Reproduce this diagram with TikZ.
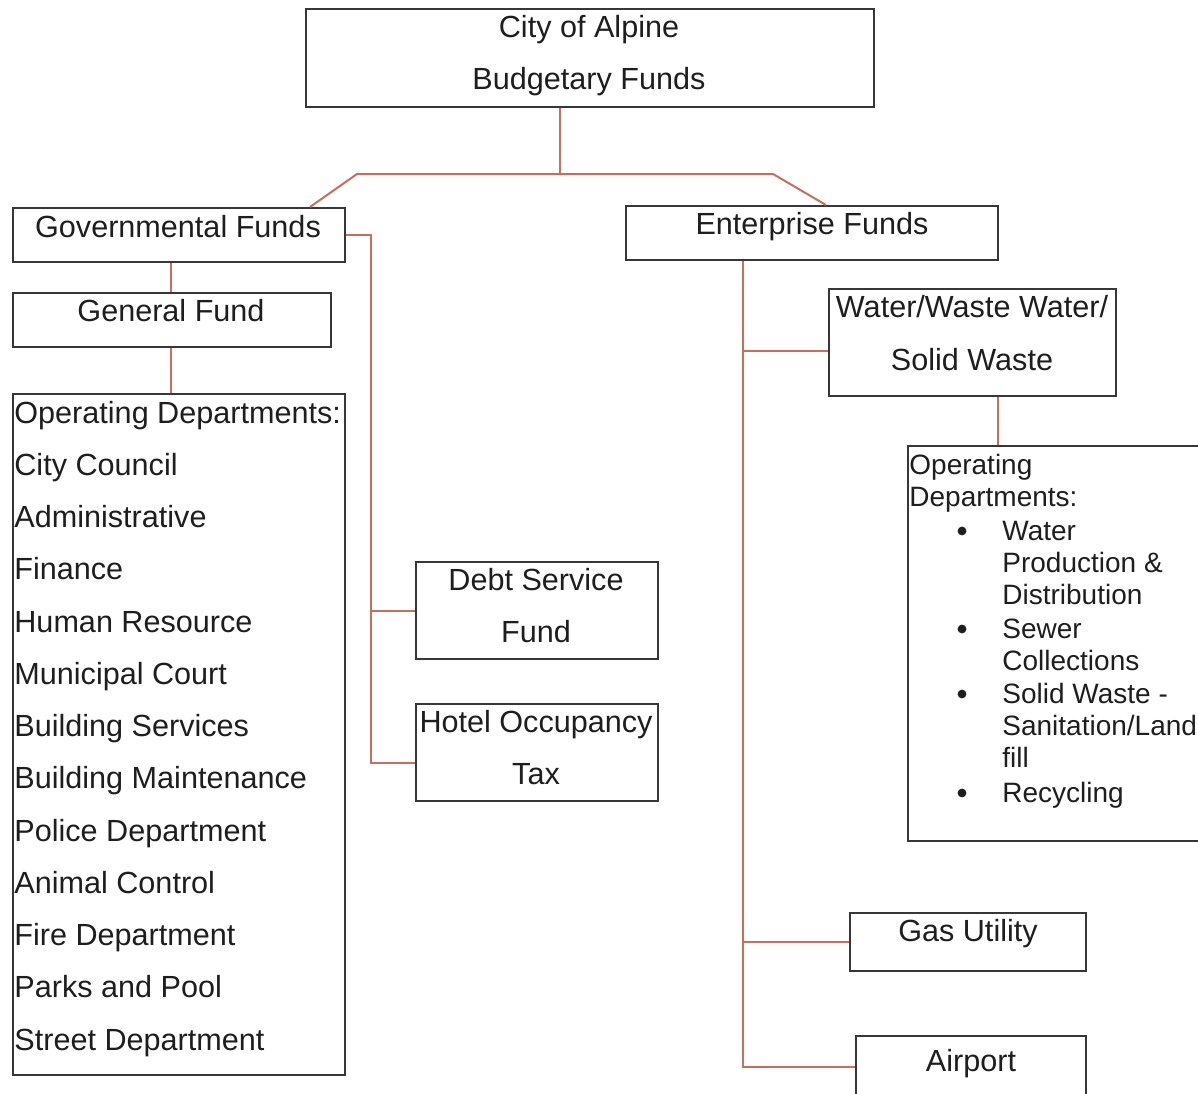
\documentclass[tikz,border=0pt]{standalone}
\usepackage{fontspec}
\setmainfont{Liberation Sans}
\definecolor{conn}{RGB}{200,110,92}
\definecolor{frame}{RGB}{55,55,55}
\definecolor{ink}{RGB}{30,30,30}
\begin{document}
\begin{tikzpicture}[x=0.5pt,y=-0.5pt,
  box/.style={draw=frame,line width=1pt,inner sep=0pt,anchor=north west,fill=none},
  txt/.style={font=\fontsize{15.3}{18}\selectfont,text=ink,anchor=base,inner sep=0pt},
  ltxt/.style={txt,anchor=base west},
  stxt/.style={font=\fontsize{14}{16}\selectfont,text=ink,anchor=base west,inner sep=0pt},
  bul/.style={circle,fill=ink,draw=none,inner sep=0pt,minimum size=4.4pt},
  link/.style={draw=conn,line width=1pt}]
\useasboundingbox (0,0) rectangle (1198,1093);
\fill[white] (0,0) rectangle (1198,1093);
\begin{scope}
\clip (0,0) rectangle (1198,1093);
% boxes
\node[box,minimum width=284pt,minimum height=49pt] (top) at (305,8) {};
\node[box,minimum width=166pt,minimum height=27pt] (gov) at (12,207) {};
\node[box,minimum width=159pt,minimum height=27pt] (gen) at (12,292) {};
\node[box,minimum width=166pt,minimum height=340.5pt] (od) at (12,393) {};
\node[box,minimum width=121pt,minimum height=48.5pt] (debt) at (415,561) {};
\node[box,minimum width=121pt,minimum height=48.5pt] (hotel) at (415,703) {};
\node[box,minimum width=186pt,minimum height=27pt] (ent) at (625,205) {};
\node[box,minimum width=143.5pt,minimum height=53.5pt] (water) at (828,288) {};
\node[box,minimum width=200pt,minimum height=197.5pt] (od2) at (907,445) {};
\node[box,minimum width=118pt,minimum height=29pt] (gas) at (849,912) {};
\node[box,minimum width=115pt,minimum height=50pt] (air) at (855,1035) {};
\end{scope}
% helper coordinates
\coordinate (j0) at (560,174);
\coordinate (jl) at (357,174);
\coordinate (jr) at (773,174);
\coordinate (gd) at (310,0);
\coordinate (ed) at (826,0);
\coordinate (gv) at (171,0);
\coordinate (tr) at (371,0);
\coordinate (hb) at (0,763);
\coordinate (et) at (743,0);
\coordinate (wb) at (0,351);
\coordinate (ab) at (0,1067);
\coordinate (wx) at (998,0);
% connectors
\draw[link] (top.south -| j0) -- (j0);
\draw[link] (gov.north -| gd) -- (jl) -- (jr) -- (ent.north -| ed);
\draw[link] (gov.south -| gv) -- (gen.north -| gv);
\draw[link] (gen.south -| gv) -- (od.north -| gv);
\draw[link] (gov.east) -- (gov.east -| tr) -- (tr |- hb) -- (hotel.west |- hb);
\draw[link] (debt.west -| tr) -- (debt.west);
\draw[link] (ent.south -| et) -- (et |- ab) -- (air.west |- ab);
\draw[link] (et |- wb) -- (water.west |- wb);
\draw[link] (gas.west -| et) -- (gas.west);
\draw[link] (water.south -| wx) -- (od2.north -| wx);
% texts
\node[txt] (t1) at (589,37) {City of Alpine};
\node[txt] (t2) at (589,89) {Budgetary Funds};
\node[txt] (tgov) at (178,237) {Governmental Funds};
\node[txt] (tgen) at (171,321) {General Fund};
\node[txt] (tent) at (812,234) {Enterprise Funds};
\node[txt] (td1) at (536,590) {Debt Service};
\node[txt] (td2) at (536,642) {Fund};
\node[txt] (th1) at (536,732) {Hotel Occupancy};
\node[txt] (th2) at (536,784) {Tax};
\node[txt] (tw1) at (972,317) {Water/Waste Water/};
\node[txt] (tw2) at (972,370) {Solid Waste};
\node[txt] (tgas) at (968,941) {Gas Utility};
\node[txt] (tair) at (971,1071) {Airport};
\foreach \s [count=\i from 0] in {Operating Departments:,City Council,Administrative,Finance,Human Resource,Municipal Court,Building Services,Building Maintenance,Police Department,Animal Control,Fire Department,Parks and Pool,Street Department}
  \node[ltxt] (ol\i) at (14,{423+52.25*\i}) {\s};
\node[stxt] (r1) at (909,474) {Operating};
\node[stxt] (r2) at (909,506) {Departments:};
\node[stxt] (r3) at (1002,540) {Water};
\node[stxt] (r4) at (1002,572) {Production \&};
\node[stxt] (r5) at (1002,604) {Distribution};
\node[stxt] (r6) at (1002,638) {Sewer};
\node[stxt] (r7) at (1002,670) {Collections};
\node[stxt] (r8) at (1002,703) {Solid Waste -};
\node[stxt] (r9) at (1002,735) {Sanitation/Land};
\node[stxt] (r10) at (1002,767) {fill};
\node[stxt] (r11) at (1002,802) {Recycling};
\node[bul] (b1) at (962,531) {};
\node[bul] (b2) at (962,629) {};
\node[bul] (b3) at (962,694) {};
\node[bul] (b4) at (962,793) {};
\end{tikzpicture}
\end{document}
